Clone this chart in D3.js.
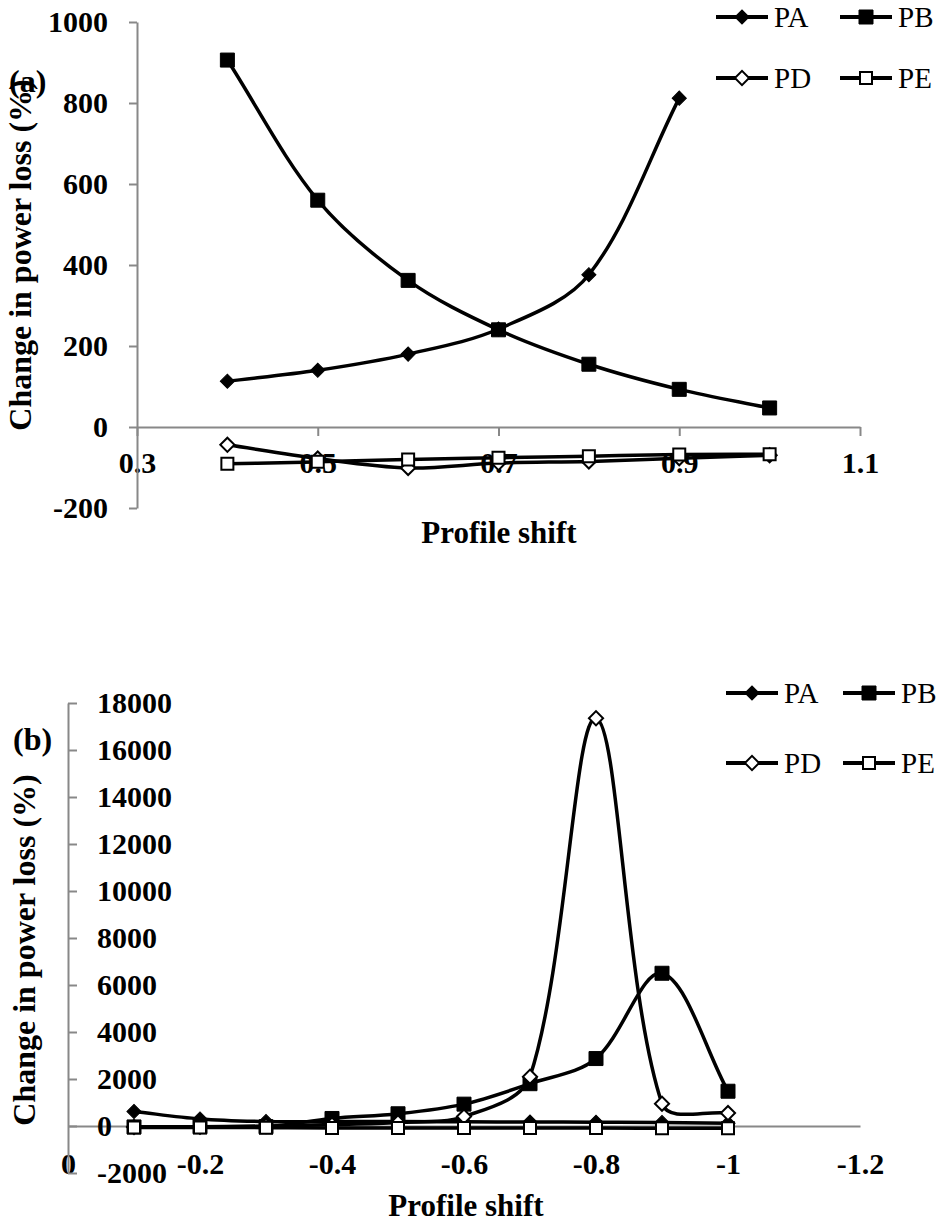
<!DOCTYPE html>
<html>
<head>
    <meta charset="utf-8">
    <title>Change in power loss</title>
    <style>
        body { margin: 0; background: #fff; }
        text { font-family: "Liberation Serif", "Times New Roman", serif; }
    </style>
</head>
<body>
    <script src="https://d3js.org/d3.v7.min.js"></script>
    <script>

        // (a) positive profile shift
        const shiftA = [0.4, 0.5, 0.6, 0.7, 0.8, 0.9, 1.0];
        const paA = [113, 140, 180, 242, 376, 812];
        const pbA = [906, 560, 362, 240, 155, 93, 47];
        const pdA = [-44, -78, -101, -89, -85, -77, -70];
        const peA = [-91, -86, -80, -76, -72, -68, -67];
        const ticksXA = [0.3, 0.5, 0.7, 0.9, 1.1];
        const ticksYA = [-200, 0, 200, 400, 600, 800, 1000];

        // (b) negative profile shift
        const shiftB = [-0.1, -0.2, -0.3, -0.4, -0.5, -0.6, -0.7, -0.8, -0.9, -1.0];
        const paB = [620, 300, 190, 190, 190, 180, 170, 160, 150, 120];
        const pbB = [-40, -30, -30, 320, 520, 930, 1800, 2870, 6500, 1480];
        const pdB = [-40, -30, 0, 60, 150, 400, 2100, 17350, 950, 550];
        const peB = [-60, -60, -70, -80, -80, -85, -90, -90, -95, -100];
        const ticksXB = [0, -0.2, -0.4, -0.6, -0.8, -1, -1.2];
        const ticksYB = [-2000, 0, 2000, 4000, 6000, 8000, 10000, 12000, 14000, 16000, 18000];

        const seriesNames = ["PA", "PB", "PD", "PE"];
        // marker kind per series: filled/open diamond/square
        const markerKinds = ["diamondFilled", "squareFilled", "diamondOpen", "squareOpen"];

        const width = 943,
            height = 1224;
        const axisColor = "#888";

        const svg = d3.select("body").append("svg")
            .attr("width", width)
            .attr("height", height);
        svg.append("rect")
            .attr("width", width)
            .attr("height", height)
            .attr("fill", "#fff");

        // top panel
        const scaleXA = d3.scaleLinear().domain([0.3, 1.1]).range([137, 860]);
        const scaleYA = d3.scaleLinear().domain([-200, 1000]).range([508, 22]);

        const gA = svg.append("g").attr("class", "panelA");
        gA.append("g")
            .attr("transform", `translate(0, ${scaleYA(0)})`)
            .call(d3.axisBottom(scaleXA).tickValues(ticksXA).tickSize(9).tickSizeOuter(0).tickPadding(16).tickFormat(d => String(d)))
            .call(styleAxis);
        gA.append("g")
            .attr("transform", `translate(${scaleXA(0.3)}, 0)`)
            .call(d3.axisLeft(scaleYA).tickValues(ticksYA).tickSize(8).tickSizeOuter(0).tickPadding(21).tickFormat(d => String(d)))
            .call(styleAxis);
        [paA, pbA, pdA, peA].forEach((values, i) => {
            renderSeries(gA, shiftA, values, scaleXA, scaleYA, markerKinds[i]);
        });
        gA.append("text")
            .attr("x", 499).attr("y", 543)
            .attr("text-anchor", "middle")
            .attr("font-size", 31).attr("font-weight", "bold")
            .text("Profile shift");
        gA.append("text")
            .attr("transform", "translate(31, 255) rotate(-90)")
            .attr("text-anchor", "middle")
            .attr("font-size", 32).attr("font-weight", "bold")
            .text("Change in power loss (%)");
        gA.append("text")
            .attr("x", 9).attr("y", 92)
            .attr("font-size", 32).attr("font-weight", "bold")
            .text("(a)");
        renderLegend(gA, 716, 17, 840, 78);

        // bottom panel
        const scaleXB = d3.scaleLinear().domain([0, -1.2]).range([68, 860]);
        const scaleYB = d3.scaleLinear().domain([-2000, 18000]).range([1173, 703]);

        const gB = svg.append("g").attr("class", "panelB");
        gB.append("g")
            .attr("transform", `translate(0, ${scaleYB(0)})`)
            .call(d3.axisBottom(scaleXB).tickValues(ticksXB).tickSize(0).tickSizeOuter(0).tickPadding(27).tickFormat(d => String(d)))
            .call(styleAxis);
        gB.append("g")
            .attr("transform", `translate(${scaleXB(0)}, 0)`)
            .call(d3.axisRight(scaleYB).tickValues(ticksYB).tickSize(9).tickSizeOuter(0).tickPadding(20).tickFormat(d => String(d)))
            .call(styleAxis);
        [paB, pbB, pdB, peB].forEach((values, i) => {
            renderSeries(gB, shiftB, values, scaleXB, scaleYB, markerKinds[i]);
        });
        gB.append("text")
            .attr("x", 466).attr("y", 1216)
            .attr("text-anchor", "middle")
            .attr("font-size", 31).attr("font-weight", "bold")
            .text("Profile shift");
        gB.append("text")
            .attr("transform", "translate(35, 950) rotate(-90)")
            .attr("text-anchor", "middle")
            .attr("font-size", 32).attr("font-weight", "bold")
            .text("Change in power loss (%)");
        gB.append("text")
            .attr("x", 13).attr("y", 750)
            .attr("font-size", 32).attr("font-weight", "bold")
            .text("(b)");
        renderLegend(gB, 726, 693, 843, 763);

        function styleAxis(g) {
            g.select(".domain").attr("stroke", axisColor).attr("stroke-width", 2);
            g.selectAll(".tick line").attr("stroke", axisColor).attr("stroke-width", 2);
            g.selectAll(".tick text")
                .attr("fill", "#000")
                .attr("font-size", 30)
                .attr("font-weight", "bold");
        }

        // spreadsheet-style smoothing: chord tangents, scaled by segment length
        function smoothPath(pts) {
            const p = d3.path();
            const dist = (a, b) => Math.hypot(b[0] - a[0], b[1] - a[1]);
            p.moveTo(pts[0][0], pts[0][1]);
            for (let i = 0; i < pts.length - 1; i++) {
                const p0 = pts[i - 1] || pts[i],
                      p1 = pts[i],
                      p2 = pts[i + 1],
                      p3 = pts[i + 2] || pts[i + 1];
                const d01 = dist(p0, p1), d12 = dist(p1, p2), d23 = dist(p2, p3);
                const f1 = d12 / ((d01 + d12) || 1) / 3 * (d01 ? 1 : 2);
                const f2 = d12 / ((d12 + d23) || 1) / 3 * (d23 ? 1 : 2);
                const c1 = [p1[0] + (p2[0] - p0[0]) * f1 / (d01 ? 1 : 2), p1[1] + (p2[1] - p0[1]) * f1 / (d01 ? 1 : 2)];
                const c2 = [p2[0] - (p3[0] - p1[0]) * f2 / (d23 ? 1 : 2), p2[1] - (p3[1] - p1[1]) * f2 / (d23 ? 1 : 2)];
                p.bezierCurveTo(c1[0], c1[1], c2[0], c2[1], p2[0], p2[1]);
            }
            return p.toString();
        }

        function renderSeries(root, xs, ys, scaleX, scaleY, kind) {
            const points = ys.map((v, i) => [scaleX(xs[i]), scaleY(v)]);
            root.append("path")
                .attr("d", smoothPath(points))
                .attr("fill", "none")
                .attr("stroke", "#000")
                .attr("stroke-width", 3.5);
            root.append("g")
                .selectAll("path")
                .data(points)
                .join("path")
                .attr("transform", d => `translate(${d[0]}, ${d[1]})`)
                .call(drawMarker, kind);
        }

        function drawMarker(sel, kind) {
            const isDiamond = kind.startsWith("diamond");
            const filled = kind.endsWith("Filled");
            const side = isDiamond ? 10 : (filled ? 14 : 12);
            sel.attr("d", d3.symbol(d3.symbolSquare, side * side)())
                .attr("transform", function () {
                    const t = d3.select(this).attr("transform") || "";
                    return isDiamond ? t + " rotate(45)" : t;
                })
                .attr("fill", filled ? "#000" : "#fff")
                .attr("stroke", "#000")
                .attr("stroke-width", filled ? 1 : 2);
        }

        function renderLegend(root, x1, y1, x2, y2) {
            const spots = [[x1, y1], [x2, y1], [x1, y2], [x2, y2]];
            const lineLen = 52;
            seriesNames.forEach((name, i) => {
                const [x, y] = spots[i];
                const g = root.append("g").attr("transform", `translate(${x}, ${y})`);
                g.append("line")
                    .attr("x2", lineLen)
                    .attr("stroke", "#000")
                    .attr("stroke-width", 4);
                g.append("path")
                    .attr("transform", `translate(${lineLen / 2}, 0)`)
                    .call(drawMarker, markerKinds[i]);
                g.append("text")
                    .attr("x", lineLen + 6)
                    .attr("dy", "0.35em")
                    .attr("font-size", 29)
                    .text(name);
            });
        }

    </script>
</body>
</html>
